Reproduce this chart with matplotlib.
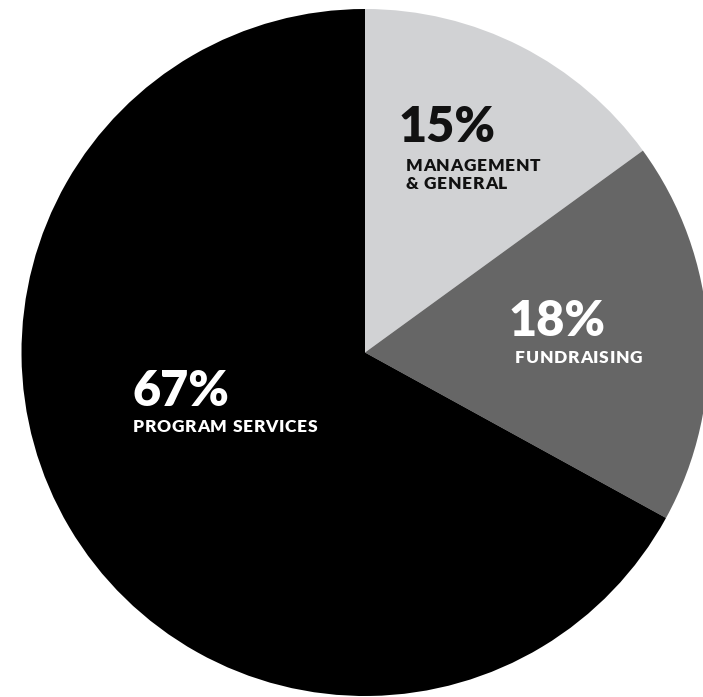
import matplotlib
matplotlib.use("Agg")
import matplotlib.pyplot as plt

# share of expenses, clockwise from 12 o'clock
categories = ["Management & General", "Fundraising", "Program Services"]
shares = [15, 18, 67]
colors = ["#d1d2d4", "#666666", "#000000"]

pct_labels = ["15%", "18%", "67%"]
name_labels = [["MANAGEMENT", "& GENERAL"], ["FUNDRAISING"], ["PROGRAM SERVICES"]]

W, H = 703, 697
FONT = "Lato"


def tracked_text(ax, x, y, s, tracking, renderer, **kw):
    # matplotlib has no letter-spacing, so place characters one by one
    def width(txt):
        if not txt.strip():
            return 0.0
        t = ax.text(0, 0, txt, **kw)
        w = t.get_window_extent(renderer).width
        t.remove()
        return w

    for i, ch in enumerate(s):
        if ch == " ":
            continue
        pos = width(s[:i + 1]) - width(ch) + i * tracking
        ax.text(x + pos, y, ch, **kw)


fig = plt.figure(figsize=(W / 100, H / 100), dpi=100)
ax = fig.add_axes([0, 0, 1, 1])

ax.pie(shares, colors=colors, startangle=90, counterclock=False,
       center=(365, H - 352.5), radius=343.5,
       wedgeprops=dict(linewidth=0, antialiased=True))
ax.set_xlim(0, W)
ax.set_ylim(0, H)
ax.set_aspect("equal")
ax.axis("off")

renderer = fig.canvas.get_renderer()

# (x, baseline) in pixel coordinates from the top-left corner
pct_pos = [(399, 141.7), (509, 336.5), (133, 405.7)]
name_pos = [[(405.5, 171), (405.5, 189)], [(515, 363.3)], [(133, 432.3)]]
text_colors = ["#111111", "white", "white"]

for pct, (px, py), names, npos, c in zip(pct_labels, pct_pos, name_labels,
                                         name_pos, text_colors):
    ax.text(px, H - py, pct, color=c, fontsize=35, fontweight="heavy",
            family=FONT, ha="left", va="baseline")
    for line, (nx, ny) in zip(names, npos):
        tracked_text(ax, nx, H - ny, line, 0.7, renderer, color=c,
                     fontsize=12.5, fontweight="heavy", family=FONT,
                     ha="left", va="baseline")

fig.savefig("out.png", dpi=100)
